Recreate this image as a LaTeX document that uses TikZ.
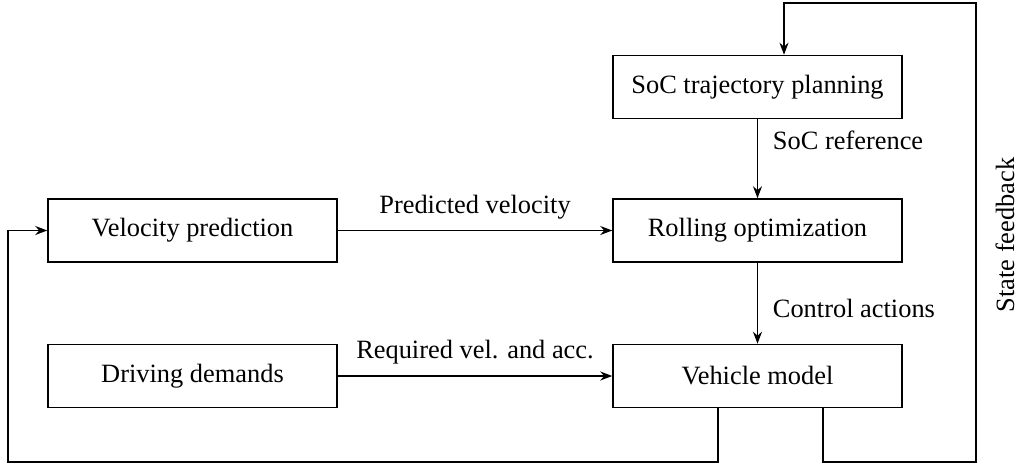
\documentclass[tikz,border=0pt]{standalone}
\usepackage{fontspec}
\setmainfont{Liberation Serif}
\usetikzlibrary{arrows.meta,calc}
\begin{document}
\begin{tikzpicture}[x=0.5pt,y=-0.5pt,
  font=\fontsize{13.2}{15}\selectfont,
  blockbox/.style={draw,line width=0.75pt,minimum width=144.5pt,minimum height=31.5pt,inner sep=0pt},
  arr/.style={line width=0.75pt,-{Stealth[length=6pt,width=4.5pt]}},
  wire/.style={line width=0.75pt}]
\useasboundingbox (0,0) rectangle (1022,466);
% blocks
\node[blockbox] (soc) at (757.5,87) {SoC trajectory planning};
\node[blockbox] (roll) at (757.5,230.5) {Rolling optimization};
\node[blockbox] (veh) at (757.5,376) {Vehicle model};
\node[blockbox] (vel) at (192.5,230.5) {Velocity prediction};
\node[blockbox] (drv) at (192.5,376) {Driving demands};
% corner points of the feedback loops
\coordinate (lbot) at (8,462);
\coordinate (rbot) at (976,462);
\coordinate (rtop) at (976,3);
% forward signals
\draw[arr] (soc) -- node[pos=0.27,right=4pt]{SoC reference} (roll);
\draw[arr] (roll) -- node[pos=0.56,right=4pt]{Control actions} (veh);
\draw[arr] (vel) -- node[above=2pt]{Predicted velocity} (roll);
\draw[arr] (drv) -- node[above=2pt]{Required vel. and acc.} (veh);
% feedback to velocity prediction
\draw[arr] ([xshift=-19.75pt]veh.south) |- (lbot) |- (vel.west);
% state feedback to trajectory planning
\draw[arr] ([xshift=32.75pt]veh.south) |- (rbot) -- (rtop) -| ([xshift=13.25pt]soc.north);
\node[rotate=90] (sf) at (1005,235) {State feedback};
\end{tikzpicture}
\end{document}
